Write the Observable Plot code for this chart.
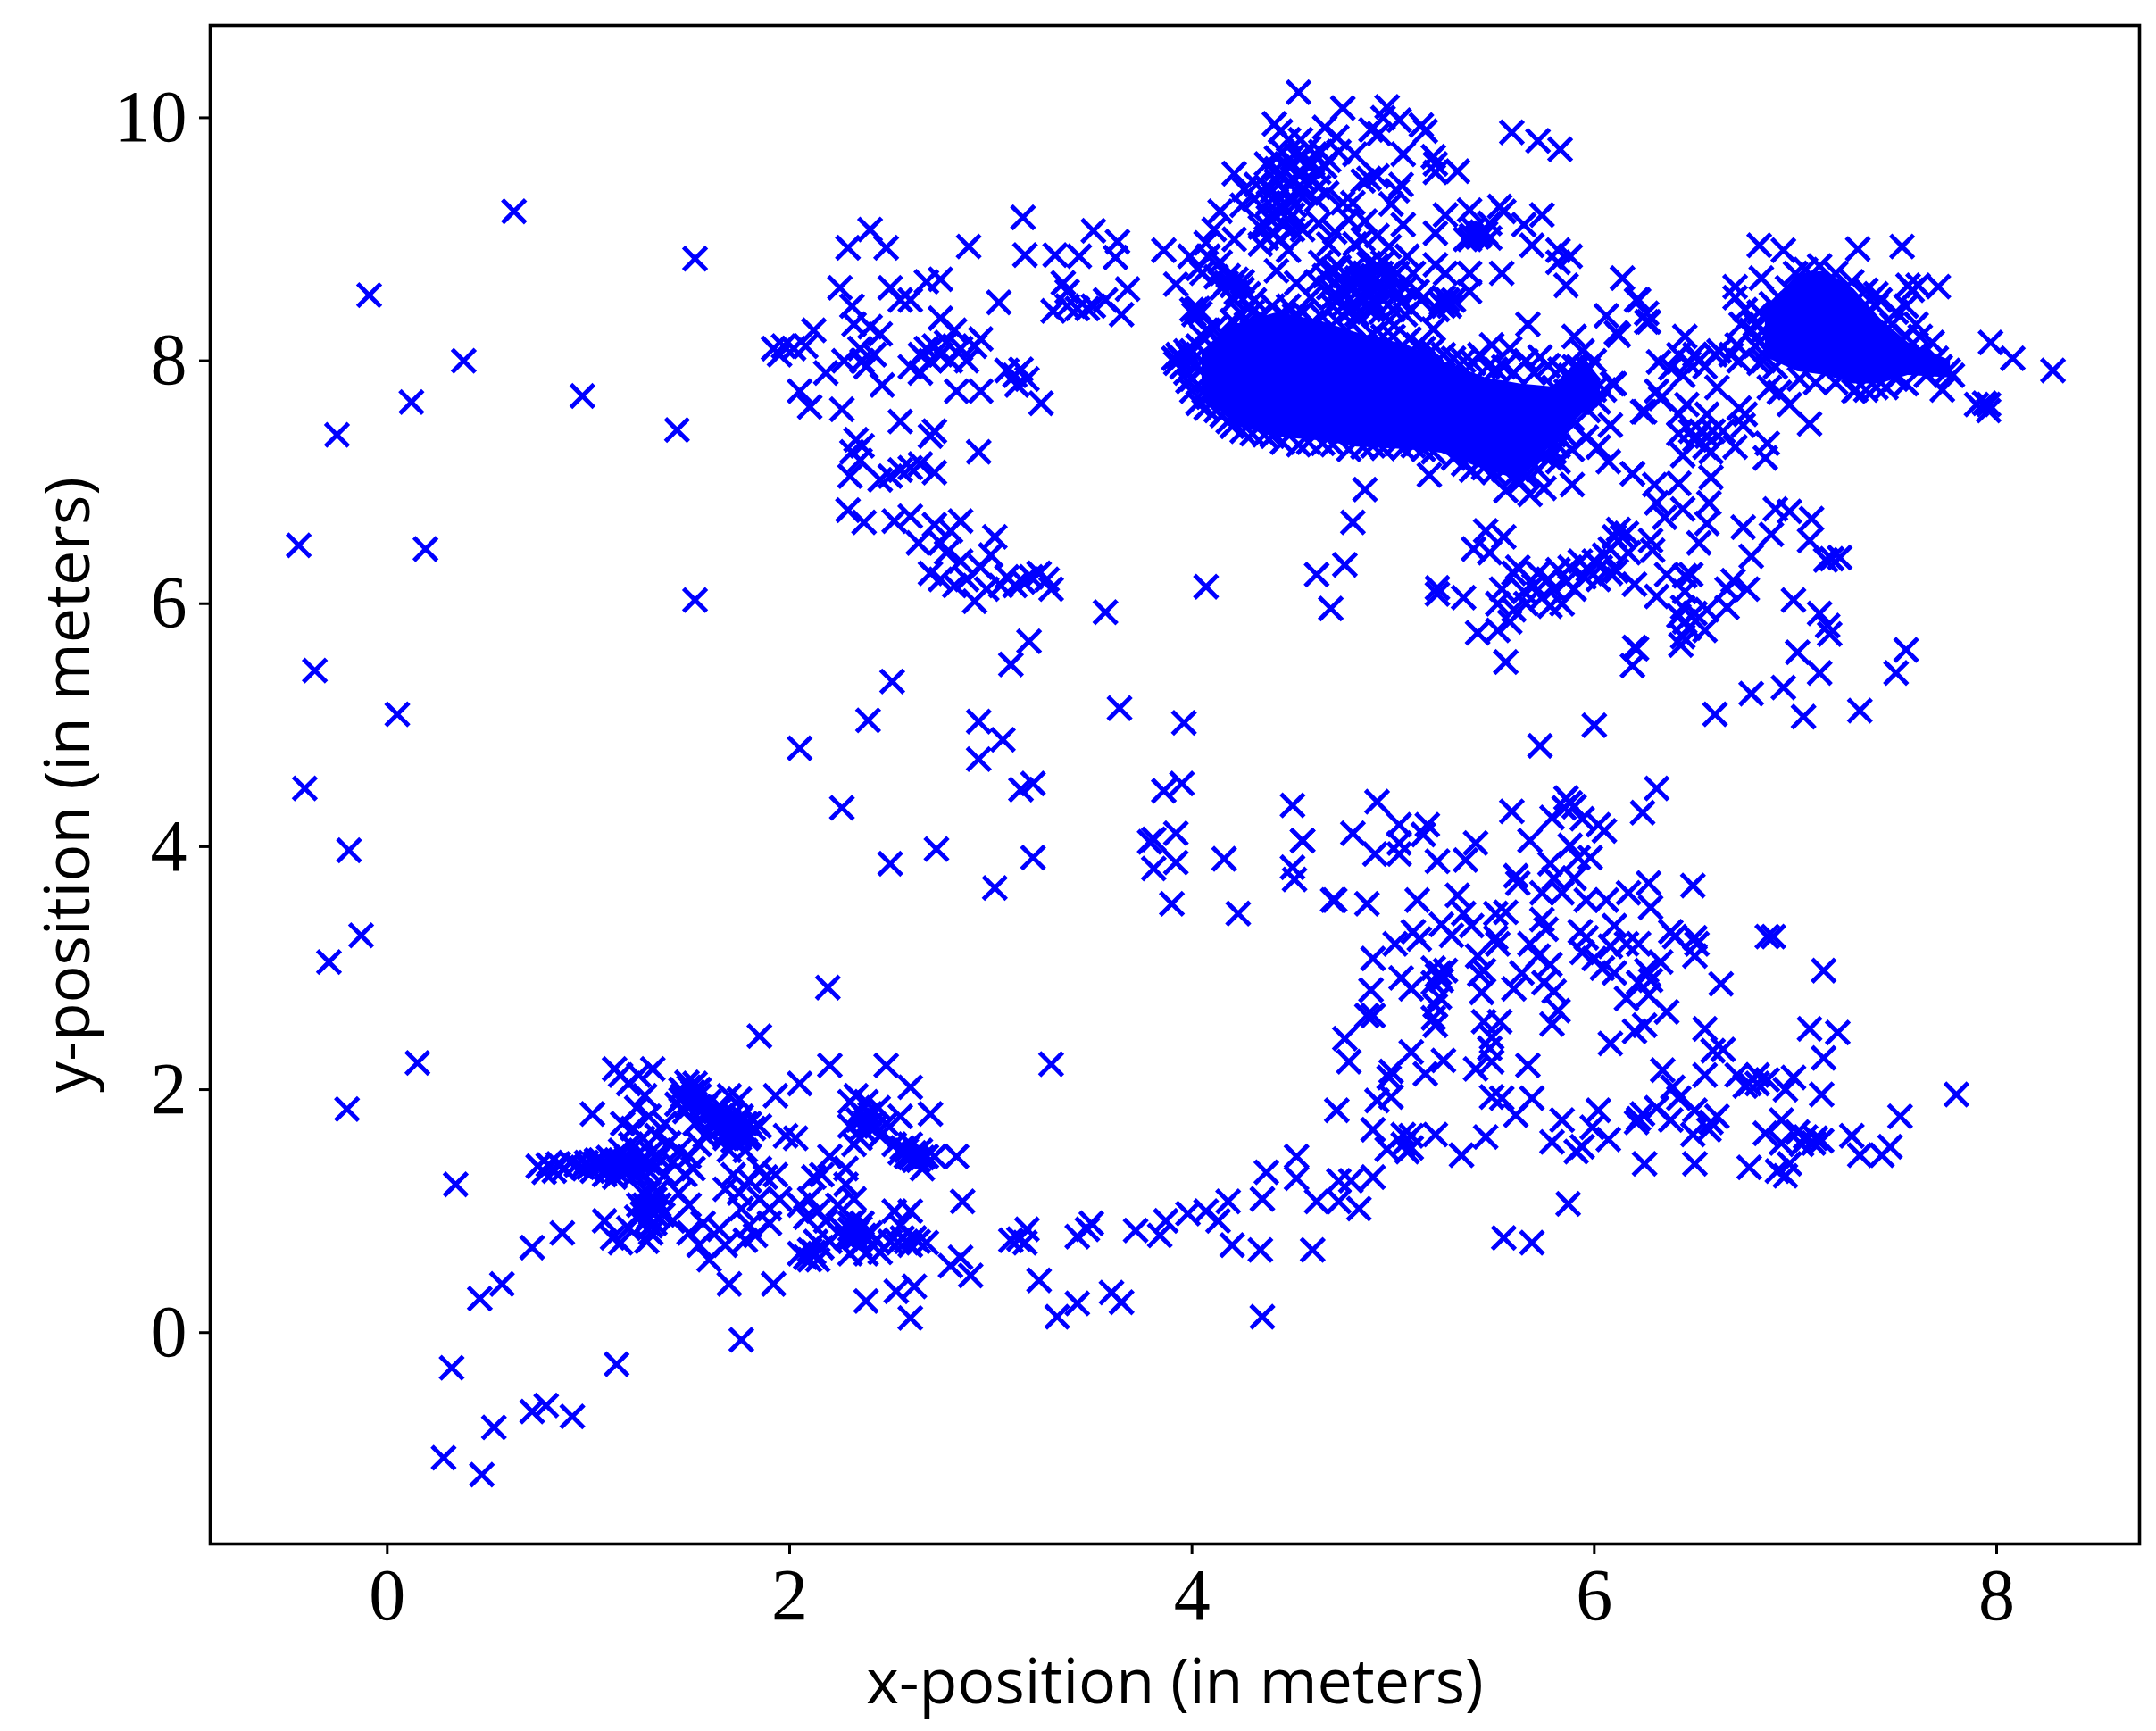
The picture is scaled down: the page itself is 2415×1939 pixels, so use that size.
<!DOCTYPE html>
<html><head><meta charset="utf-8">
<style>html,body{margin:0;padding:0;background:#fff}svg{display:block}</style>
<script src="https://cdn.jsdelivr.net/npm/d3@7"></script>
<script src="https://cdn.jsdelivr.net/npm/@observablehq/plot@0.6"></script>
</head><body><div id="chart"></div>
<script>
const xTicks=[0,2,4,6,8];
const yTicks=[0,2,4,6,8,10];
const xLabel="x-position (in meters)";
const yLabel="y-position (in meters)";
// Solid, fully overplotted masses: x, lower y, upper y
const mainMass=[[4.05,7.74,8.08],[4.22,7.46,8.30],[4.43,7.37,8.40],[4.65,7.34,8.32],[4.82,7.29,8.23],[5.07,7.27,8.13],[5.24,7.24,8.0],[5.46,7.10,7.86],[5.63,7.02,7.81],[5.82,7.36,7.78],[5.94,7.56,8.05],[6.03,7.65,7.85]];
const rightMass=[[6.85,8.03,8.42],[7.01,7.91,8.71],[7.15,7.88,8.74],[7.29,7.81,8.59],[7.42,7.81,8.35],[7.56,7.88,8.15],[7.77,7.86,8.0]];
const farLeft=[[.63,9.23],[-.09,8.54],[.38,8],[.12,7.66],[-.25,7.39],[.97,7.71],[1.44,7.43],[1.53,8.84],[-.44,6.48],[.19,6.45],[1.53,6.03],[-.36,5.45],[.05,5.09],[-.41,4.48],[-.19,3.97],[-.13,3.27],[-.29,3.05],[-.2,1.84],[.15,2.22],[.34,1.22]];
const tail=[[.32,-.29],[.28,-1.03],[.47,-1.17],[.53,-.78],[.72,-.65],[.79,-.6],[.92,-.69],[1.14,-.26],[.46,.28],[.57,.4],[.72,.7],[.87,.82],[1.76,-.06]];
const lowerLeft=[[.75,1.37],[.78,1.32],[.8,1.38],[.83,1.33],[.85,1.39],[.88,1.35],[.91,1.4],[.97,1.36],[.99,1.4],[1.02,1.33],[1.04,1.42],[1.06,1.37],[1.08,1.3],[1.1,1.44],[1.11,1.36],[1.13,1.28],[1.15,1.4],[1.16,1.5],[1.18,1.32],[1.2,1.42],[1.21,1.55],[1.23,1.3],[1.25,1.4],[1.27,1.6],[1.29,1.35],[1.31,1.48],[1.32,1.2],[1.33,1.1],[1.31,1.0],[1.29,.92],[1.31,.82],[1.29,.75],[1.25,1.05],[1.24,.95],[1.27,1.15],[1.35,1.05],[1.37,.97],[1.33,.9],[1.08,.92],[1.12,.78],[1.16,.74],[1.2,.86],[1.02,1.8],[1.13,2.17],[1.16,2.12],[1.2,2.05],[1.25,2.12],[1.32,2.17],[1.28,1.95],[1.24,1.85],[1.17,1.72],[1.22,1.68],[1.3,1.78],[1.38,1.72],[1.34,1.62],[1.4,1.56],[1.45,1.5],[1.5,1.45],[1.42,1.4],[1.48,1.3],[1.38,1.3],[1.55,1.55],[1.52,1.35],[1.58,1.62],[1.44,1.88],[1.46,2.0],[1.49,2.06],[1.52,1.98],[1.5,1.9],[1.55,2.0],[1.48,1.82],[1.55,1.86],[1.6,1.9],[1.58,1.78],[1.62,1.75],[1.66,1.85],[1.53,1.72],[1.6,1.65],[1.68,1.7],[1.72,1.65],[1.75,1.6],[1.78,1.72],[1.72,1.8],[1.7,1.95],[1.75,1.92],[1.8,1.62],[1.82,1.68],[1.85,1.7],[1.78,1.5],[1.7,1.5],[1.74,1.75],[1.68,1.6],[1.45,1.15],[1.5,1.05],[1.42,.92],[1.5,.82],[1.55,.72],[1.6,.6],[1.57,.9],[1.65,.85],[1.68,.72],[1.68,1.18],[1.72,1.3],[1.75,1.15],[1.8,1.25],[1.85,1.35],[1.88,1.28],[1.76,1.02],[1.8,.88],[1.85,1.1],[1.78,.76],[1.83,.8],[1.9,.9],[1.7,.4],[1.92,.4],[1.85,2.44],[1.93,1.95],[1.95,1.1],[1.98,1.62],[2.03,1.6],[1.93,1.3],[1.9,1.02]];
const lowerLeftDense=[[.94,1.38],[1.0,1.36],[1.03,1.39],[1.06,1.42],[1.09,1.35],[1.12,1.4],[1.14,1.33],[1.17,1.38],[1.19,1.44],[1.22,1.36],[1.24,1.46],[1.26,1.33],[1.28,1.42],[1.3,1.4],[1.33,1.36],[1.35,1.44],[1.3,1.15],[1.32,1.05],[1.34,1.16],[1.28,1.05],[1.3,.95],[1.33,.98],[1.27,.98],[1.31,.88],[1.47,1.95],[1.5,2.02],[1.53,2.05],[1.46,1.92],[1.52,1.92],[1.55,1.95],[1.49,1.86],[1.58,1.86],[1.63,1.82],[1.66,1.78],[1.7,1.74],[1.72,1.7],[1.75,1.72],[1.74,1.64],[1.77,1.66],[1.79,1.6],[1.72,1.58],[1.68,1.64],[1.76,1.78],[1.8,1.72],[1.65,1.68],[1.62,1.7]];
const lowerMid=[[2.05,2.05],[2.19,2.84],[2.2,2.2],[2.2,1.45],[2.12,1.28],[2.16,1.3],[2.28,1.35],[2.3,1.9],[2.33,1.95],[2.38,1.9],[2.37,1.78],[2.41,1.72],[2.44,1.85],[2.48,1.72],[2.3,1.7],[2.35,1.6],[2.32,1.55],[2.45,1.62],[2.48,2.2],[2.55,1.78],[2.6,1.55],[2.52,1.55],[2.55,1.48],[2.58,1.45],[2.62,1.42],[2.65,1.5],[2.68,1.45],[2.6,2.02],[2.7,1.8],[2.66,1.35],[2.72,1.45],[2.05,1.05],[2.08,.95],[2.1,1.1],[2.14,1.0],[2.18,.92],[2.24,1.05],[2.28,1.22],[2.32,1.1],[2.13,.75],[2.05,.65],[2.1,.6],[2.14,.6],[2.2,.75],[2.26,.85],[2.3,.9],[2.33,.82],[2.36,.9],[2.28,.78],[2.35,.72],[2.4,.82],[2.43,.76],[2.3,.65],[2.38,.65],[2.45,.66],[2.5,.75],[2.56,.78],[2.6,.72],[2.64,.75],[2.68,.74],[2.52,1.0],[2.6,1.0],[2.55,.88],[2.38,.26],[2.53,.34],[2.62,.38],[2.6,.12],[2.8,.55],[2.85,.62],[2.9,.47],[2.86,1.08],[2.83,1.45]];
const lowerMidDense=[[2.35,1.82],[2.38,1.72],[2.4,1.8],[2.36,1.68],[2.43,1.7],[2.34,1.75],[2.56,1.52],[2.58,1.5],[2.62,1.48],[2.64,1.42],[2.6,1.44],[2.66,1.44],[2.3,.85],[2.33,.78],[2.35,.86],[2.32,.92],[2.37,.8],[2.3,.78],[2.1,.68],[2.08,.62],[2.12,.66],[2.16,.7],[2.58,.75],[2.54,.74],[2.62,.78]];
const bridge=[[3.1,.76],[3.14,.77],[3.18,.85],[3.17,.74],[3.3,2.21],[3.24,.43],[3.33,.13],[3.43,.24],[3.43,.79],[3.5,.9],[3.48,.85],[3.6,.33],[3.65,.25],[3.72,.84],[3.84,.8],[3.87,.92],[3.98,.98],[4.07,1.0],[4.13,.92],[4.18,1.08],[4.2,.72],[4.34,.68],[4.35,.13],[4.35,1.1],[4.37,1.32],[4.52,1.27],[4.52,1.45],[4.6,.68],[4.73,1.08]];
const lowerRight=[[4.92,4.37],[4.8,4.11],[5.03,4.18],[5.17,4.18],[5.15,4.1],[5.03,4.03],[4.91,3.94],[5.03,3.94],[5.22,3.88],[5.36,3.89],[5.41,4.03],[4.55,4.05],[5.59,4.29],[5.68,4.05],[5.79,4.24],[5.86,4.4],[5.9,4.33],[5.85,4.32],[5.88,4.36],[5.94,4.23],[6.02,4.18],[6.05,4.13],[6.24,4.28],[6.31,4.48],[5.88,4.01],[5.78,3.86],[5.92,3.91],[5.98,3.91],[5.9,3.74],[5.61,3.76],[5.62,3.7],[5.74,3.62],[5.8,3.74],[5.84,3.62],[6.06,3.56],[5.96,3.56],[6.17,3.62],[6.27,3.7],[6.49,3.68],[6.28,3.5],[4.71,3.56],[4.87,3.53],[5.12,3.56],[5.32,3.6],[5.35,3.45],[5.51,3.45],[5.56,3.46],[5.24,3.36],[5.1,3.3],[5.01,3.2],[5.13,3.24],[5.29,3.27],[5.39,3.35],[5.51,3.25],[5.52,3.2],[5.42,3.1],[5.74,3.4],[5.76,3.32],[5.68,3.2],[5.72,3.1],[5.78,3.03],[5.64,2.96],[5.6,2.83],[5.75,2.88],[5.8,2.81],[5.82,2.65],[5.79,2.54],[5.93,3.3],[5.96,3.25],[6.08,3.18],[6,3.08],[6.04,3],[6.1,2.96],[5.94,3.13],[6.1,3.35],[6.22,3.2],[6.16,3.2],[6.33,3.05],[6.26,2.98],[6.28,2.9],[6.22,2.88],[6.16,2.75],[6.27,2.78],[6.36,2.64],[6.38,3.3],[6.4,3.26],[6.5,3.25],[6.51,3.2],[6.5,3.1],[6.63,2.87],[7.14,2.98],[6.86,3.26],[6.89,3.26],[4.9,3.08],[5.04,2.92],[5.09,2.83],[4.89,2.82],[4.9,2.61],[4.87,2.61],[4.76,2.42],[4.78,2.23],[5.23,2.96],[5.2,2.88],[5.22,2.94],[5.26,2.98],[5.2,3.0],[5.24,2.9],[5.21,2.69],[5.2,2.59],[5.21,2.53],[5.23,2.76],[5.44,2.8],[5.45,2.56],[5.53,2.56],[5.49,2.43],[5.48,2.34],[5.49,2.23],[5.41,2.17],[5.45,2.98],[5.43,2.95],[5.67,2.2],[6.08,2.38],[6.2,2.48],[6.25,2.53],[6.55,2.5],[7.07,2.5],[7.21,2.47],[7.14,2.26],[6.59,2.32],[6.64,2.33],[6.34,2.16],[6.55,2.12],[6.39,2.02],[6.71,2.12],[6.81,2.12],[6.77,2.05],[6.81,2.05],[6.75,2.03],[6.86,2.08],[6.99,2.1],[6.95,2],[7.13,1.96],[5.09,2.31],[4.99,2.15],[4.98,2.1],[5.25,2.24],[5.16,2.13],[4.99,1.94],[4.92,1.91],[4.72,1.83],[5.49,1.94],[5.54,1.93],[5.69,1.93],[5.61,1.79],[4.9,1.67],[5.05,1.63],[5.09,1.62],[5.21,1.63],[5.46,1.61],[4.97,1.51],[5.07,1.49],[5.05,1.55],[5.09,1.52],[5.34,1.46],[5.84,1.75],[6.02,1.83],[5.99,1.69],[5.79,1.57],[5.94,1.53],[5.91,1.49],[6.07,1.59],[6.22,1.76],[6.24,1.8],[6.21,1.73],[6.31,1.85],[6.38,1.75],[6.42,1.93],[6.5,1.83],[6.58,1.73],[6.61,1.78],[6.49,1.63],[6.57,1.67],[6.93,1.75],[6.85,1.64],[7.05,1.61],[7.01,1.65],[7.09,1.56],[7.13,1.58],[6.93,1.56],[7.03,1.55],[7.1,1.6],[7.28,1.62],[7.32,1.46],[7.43,1.46],[7.47,1.53],[7.52,1.78],[6.25,1.39],[6.5,1.39],[6.77,1.36],[6.91,1.33],[6.97,1.39],[6.95,1.29],[4.9,1.28],[4.73,1.25],[4.79,1.25],[4.62,1.08],[4.83,1.02],[5.87,1.06],[7.8,1.96],[5.55,.78],[5.69,.74]];
const midScatter=[[3.02,3.66],[2.5,3.86],[2.73,3.98],[2.26,4.32],[2.05,4.81],[2.39,5.04],[2.51,5.36],[2.94,5.03],[2.94,4.72],[3.06,4.88],[3.15,4.47],[3.21,4.52],[3.21,3.91],[3.1,5.5],[3.19,5.69],[3.64,5.14],[3.57,5.93],[3.96,5.02],[3.95,4.52],[3.86,4.46],[3.92,4.11],[3.79,4.04],[3.81,4.06],[3.81,3.82],[3.92,3.87],[3.9,3.53],[4.16,3.9],[4.23,3.45],[4.5,4.34],[4.55,4.05],[4.5,3.83],[4.51,3.73],[4.7,3.56],[4.07,6.14],[4.62,6.24],[4.76,6.32],[4.69,5.96],[4.8,6.67],[4.86,6.94],[5.22,6.13],[5.22,6.08],[5.73,4.83],[6,5],[6.19,5.49],[6.21,5.63],[6.6,5.09],[6.78,5.26],[6.94,5.31],[7.04,5.07],[7.12,5.43],[7.01,5.6],[7.32,5.12],[7.5,5.43],[7.55,5.62]];
const upperLeft=[[1.92,8.1],[1.95,8.05],[1.97,8.12],[2.02,8.1],[2.08,8.12],[2.05,7.75],[2.12,8.25],[2.1,7.62],[2.18,7.9],[2.25,8.6],[2.26,7.6],[2.27,8],[2.29,8.93],[2.31,8.45],[2.32,8.3],[2.35,8.1],[2.36,8],[2.38,7.95],[2.4,8.28],[2.42,8.05],[2.4,9.08],[2.45,8.22],[2.48,8.93],[2.5,8.6],[2.46,7.8],[2.55,8.5],[2.6,8.5],[2.65,8.05],[2.68,8.1],[2.7,8.0],[2.72,8.12],[2.75,8.05],[2.78,8.15],[2.8,8.0],[2.82,8.25],[2.85,8.1],[2.88,8.0],[2.92,8.12],[2.95,8.18],[2.75,8.35],[2.68,8.65],[2.75,8.67],[2.65,7.9],[2.83,7.75],[2.95,7.75],[2.6,7.95],[3.08,7.92],[3.12,7.88],[3.15,7.93],[3.18,7.85],[3.13,7.8],[3.25,7.65],[3.04,8.48],[2.89,8.94],[2.3,7.05],[2.33,7.35],[2.36,7.3],[2.31,7.25],[2.35,7.18],[2.45,7.02],[2.5,7.05],[2.55,7.1],[2.6,7.12],[2.65,7.15],[2.7,7.38],[2.72,7.42],[2.72,7.08],[2.94,7.25],[2.29,6.77],[2.37,6.67],[2.52,6.68],[2.6,6.72],[2.64,6.5],[2.72,6.65],[2.75,6.5],[2.8,6.6],[2.85,6.68],[2.7,6.25],[2.78,6.42],[2.85,6.35],[2.75,6.2],[2.82,6.15],[2.88,6.2],[2.92,6.02],[2.95,6.3],[2.98,6.12],[3.0,6.4],[3.02,6.55],[3.05,6.15],[3.08,6.22],[3.12,6.15],[3.16,6.18],[3.2,6.22],[3.24,6.25],[3.28,6.2],[3.3,6.12],[2.55,7.5],[3.16,9.18],[3.17,8.87],[3.32,8.87],[3.51,9.07],[3.63,8.98],[3.62,8.85],[3.44,8.86],[3.36,8.64],[3.31,8.41],[3.38,8.45],[3.43,8.43],[3.48,8.43],[3.51,8.45],[3.38,8.57],[3.57,8.5],[3.65,8.38],[3.68,8.59]];
const topCluster=[[4.53,10.21],[4.75,10.08],[4.97,10.09],[4.95,10],[5.03,9.98],[4.89,9.9],[4.93,9.87],[5.14,9.94],[5.16,9.89],[4.41,9.95],[4.44,9.89],[4.66,9.92],[4.72,9.84],[4.54,9.82],[4.48,9.82],[5.59,9.88],[5.72,9.81],[5.83,9.74],[5.05,9.7],[5.2,9.68],[5.21,9.62],[5.21,9.55],[5.32,9.56],[4.64,9.72],[4.73,9.72],[4.81,9.7],[4.37,9.62],[4.42,9.67],[4.51,9.7],[4.58,9.75],[4.61,9.7],[4.68,9.65],[4.42,9.58],[4.48,9.6],[4.53,9.55],[4.58,9.6],[4.63,9.55],[4.21,9.54],[4.88,9.5],[4.85,9.48],[4.92,9.52],[5.04,9.45],[5.02,9.4],[4.26,9.41],[4.32,9.45],[4.37,9.43],[4.42,9.48],[4.49,9.45],[4.49,9.35],[4.51,9.28],[4.53,9.38],[4.67,9.38],[4.63,9.43],[4.25,9.28],[4.14,9.23],[4.31,9.33],[4.38,9.3],[4.75,9.3],[4.8,9.3],[4.99,9.29],[5.26,9.2],[5.38,9.24],[5.53,9.27],[5.55,9.23],[5.74,9.2],[5.65,9.12],[5.48,9.13],[5.44,9.06],[5.39,9.03],[5.42,9.02],[5.48,9.01],[5.36,9],[5.69,8.95],[5.82,8.91],[5.88,8.86],[5.82,8.81],[5.86,8.62],[5.54,8.72],[5.21,9.05],[5.05,9.12],[4.86,9.15],[4.78,9.16],[4.71,9.06],[4.55,9.08],[4.37,9.01],[4.34,8.96],[4.48,9.16],[4.37,9.11],[4.21,9],[4.11,9.08],[4.07,8.97],[3.86,8.91],[3.99,8.86],[4.08,8.86],[4.14,8.81],[4.03,8.76],[3.92,8.63],[4.05,8.72],[4.12,8.69],[4.17,8.64],[4.22,8.67],[4.25,8.59],[4.31,8.5],[4.21,8.5],[4.02,8.42],[4.04,8.39],[4.07,8.25],[4.42,8.74],[4.52,8.64],[4.59,8.52],[4.48,8.91],[4.63,9.13],[4.68,8.96],[4.64,8.81],[4.73,8.77],[4.81,8.96],[4.85,9.0],[4.92,9.03],[4.98,8.94],[4.95,8.81],[4.73,8.67],[4.81,8.77],[4.85,8.67],[4.78,8.62],[4.88,8.57],[4.73,8.52],[4.81,8.45],[4.9,8.42],[4.95,8.5],[4.99,8.67],[4.9,8.7],[5.07,8.86],[5.21,8.79],[5.26,8.72],[5.1,8.72],[5.12,8.57],[5.09,8.42],[5.24,8.47],[5.3,8.5],[5.38,8.72],[5.38,8.57],[5.2,8.26],[5.67,8.3],[4.68,8.6],[4.76,8.55],[4.84,8.6],[4.7,8.45],[4.78,8.4],[4.86,8.5],[4.92,8.6],[5.02,8.55],[5.0,8.42],[4.76,8.72],[4.82,8.68],[4.88,8.8],[4.94,8.72],[5.02,8.72],[5.06,8.6],[5.14,8.5],[5.28,8.45],[5.25,8.52]];
const topDense=[[4.45,9.72],[4.5,9.62],[4.55,9.68],[4.6,9.62],[4.66,9.6],[4.44,9.52],[4.5,9.5],[4.56,9.48],[4.4,9.4],[4.46,9.4],[4.42,9.3],[4.46,9.25],[4.41,9.2],[4.45,9.12],[4.4,9.05],[4.44,9.0],[4.5,9.2],[4.5,9.08],[4.38,9.18],[4.34,9.1],[4.6,9.48],[4.55,9.4],[4.62,9.32],[4.15,8.6],[4.18,8.7],[4.2,8.62],[4.25,8.65],[4.28,8.55],[4.22,8.56],[4.01,8.38],[4.03,8.43],[4.0,8.42],[5.4,9.08],[5.43,9.03],[5.46,9.05],[5.38,9.0],[5.25,8.45],[5.22,8.42],[5.27,8.5],[4.7,8.75],[4.66,8.7],[4.62,8.65],[4.78,8.5],[4.83,8.52],[4.9,8.5],[4.96,8.58],[5.0,8.6],[4.74,8.6],[4.8,8.6],[4.86,8.72],[4.92,8.78],[4.98,8.72],[4.7,8.52],[4.75,8.45],[4.82,8.38],[4.88,8.42],[4.94,8.4],[5.04,8.48],[5.06,8.38],[4.98,8.33]];
const massEdge=[[3.91,8.02],[3.98,7.83],[4,7.75],[4.07,7.61],[4.12,7.59],[3.93,8.05],[3.97,8.08],[4,8],[4.2,7.46],[4.36,7.39],[4.53,7.31],[4.78,7.27],[4.85,7.29],[5.02,7.32],[5.15,7.27],[5.39,7.1],[5.55,7.1],[4.14,8.2],[4.05,8.2],[4.27,8.3],[4.34,8.37],[4.46,8.37],[4.51,8.37],[4.6,8.32],[4.87,8.18],[4.95,8.2],[5.12,8.13],[5.19,8.08],[5.3,8.02],[5.49,8.13],[5.58,8.1],[5.51,7.93],[5.43,8.05],[5.83,7.93],[5.77,7.96],[5.73,8.03],[5.8,7.78],[5.83,7.66],[5.9,7.95],[6,7.76],[6.05,7.76],[5.89,7.52],[5.8,7.39],[5.7,7.27],[5.75,7.22],[5.66,7.05],[5.63,7],[5.9,8.2],[5.94,8.08],[6,8],[5.97,7.93],[6.09,7.81],[5.89,7.83],[5.92,7.66],[6.02,7.66],[5.97,7.59],[5.86,7.75],[5.93,7.8],[5.96,7.72],[5.92,7.95],[5.88,7.88],[6.06,8.37],[6.11,8.23],[6.14,8.68],[6.22,8.5],[6.26,8.32],[6.24,7.58],[6.08,7.47],[5.96,7.37],[6.02,7.29],[6.07,7.17],[6.19,7.07],[5.89,7.27],[5.82,7.17],[5.75,6.95],[5.89,6.98],[5.56,6.93],[5.68,6.9],[5.18,7.06],[4.08,8.25],[4.12,8.28],[4.2,8.33],[4.25,8.38],[4.3,8.4],[4.4,8.45],[4.48,8.45],[4.55,8.4],[4.65,8.36],[4.72,8.33],[4.8,8.3],[4.9,8.22],[5,8.2],[5.08,8.18],[5.15,8.1],[5.25,8.05],[5.35,8],[5.4,7.98],[5.47,7.95],[5.55,7.95],[5.6,7.9],[5.66,8],[5.7,7.9],[4.08,7.7],[4.15,7.55],[4.18,7.5],[4.25,7.42],[4.3,7.4],[4.4,7.38],[4.45,7.33],[4.58,7.33],[4.65,7.32],[4.7,7.31],[4.9,7.3],[4.95,7.28],[5.05,7.28],[5.1,7.3],[5.2,7.25],[5.3,7.2],[5.35,7.15],[5.45,7.12],[5.5,7.08],[5.6,7.05],[5.65,7.08],[5.72,7.1],[5.78,7.2],[5.82,7.3],[5.85,7.4],[5.8,7.25],[3.98,8.05],[4.02,7.95],[3.95,7.95],[3.97,7.9],[4,7.85],[4.03,7.65],[4.06,7.75],[4,8.08],[4.03,8.12],[3.94,8.02],[3.92,7.98]];
const rightCluster=[[6.82,8.95],[6.94,8.91],[7.31,8.92],[7.53,8.94],[6.83,8.68],[6.7,8.61],[6.7,8.52],[7.56,8.62],[7.61,8.62],[7.58,8.58],[7.71,8.61],[7.55,8.45],[6.21,8.5],[6.26,8.39],[6.27,8.32],[6.12,8.21],[6.45,8.2],[6.32,7.99],[6.42,8.05],[6.44,7.88],[6.62,8.08],[6.73,8.3],[6.71,8.13],[7.97,8.15],[8.08,8.02],[8.28,7.92],[7.9,7.64],[7.94,7.65],[7.96,7.59],[7.96,7.64],[7.73,7.76],[7.29,7.75],[7.55,7.81],[6.97,7.64],[7.07,7.48],[6.87,7.78],[6.92,7.74],[6.61,7.78],[6.31,7.75],[6.1,7.81],[6.33,7.69],[6.25,7.58],[6.46,7.64],[6.42,7.56],[6.56,7.56],[6.48,7.42],[6.59,7.42],[6.64,7.42],[6.55,7.29],[6.44,7.22],[6.58,7.25],[6.7,7.29],[6.75,7.56],[6.72,7.61],[6.74,7.47],[6.86,7.32],[6.85,7.2],[6.19,7.07],[6.3,6.98],[6.42,6.99],[6.58,7.04],[6.57,6.83],[6.31,6.83],[6.44,6.78],[6.35,6.71],[6.56,6.66],[6.9,6.78],[6.97,6.76],[7.08,6.7],[7.07,6.52],[6.74,6.63],[6.88,6.57],[6.28,6.52],[6.52,6.5],[6.78,6.39],[7.15,6.36],[7.22,6.38],[7.18,6.37],[6.12,6.61],[6.14,6.55],[6.17,6.42],[6.29,6.44],[6.36,6.24],[6.45,6.23],[6.48,6.24],[6.2,6.16],[6.11,6.27],[6.31,6.06],[6.44,5.97],[6.45,6.1],[6.55,5.78],[6.66,6.12],[6.69,6.19],[6.76,6.12],[6.66,5.97],[6.56,5.95],[6.99,6.03],[7.12,5.92],[7.16,5.82],[7.17,5.75],[6.44,5.73],[6.43,5.66],[6.2,5.64],[6.75,8.42],[6.78,8.25],[6.68,8.05],[6.8,8.12],[6.84,8.0],[6.9,7.95],[6.82,7.98],[6.72,8.0],[6.6,8.05],[6.52,8.0],[6.5,8.05],[6.47,7.98],[6.55,7.95],[6.38,7.94],[7.42,8.5],[7.5,8.4],[7.6,8.3],[7.68,8.15],[7.6,8.05],[7.72,7.95],[7.76,7.92],[7.78,7.88],[7.5,7.85],[7.4,7.78],[7.3,7.76],[7.65,7.88],[7.62,8.2],[7.4,8.55],[6.82,8.4],[6.85,8.35],[6.8,8.3],[6.84,8.25],[6.82,8.15],[6.86,8.1],[6.88,8.47],[6.92,8.52],[6.96,8.6],[7.0,8.72],[7.05,8.75],[7.12,8.78],[7.2,8.72],[7.28,8.65],[7.35,8.58],[7.4,8.45],[7.48,8.3],[7.55,8.2],[7.7,8.02],[7.02,7.85],[7.1,7.82],[7.2,7.82],[7.35,7.76],[7.45,7.78],[6.42,7.4],[6.5,7.35],[6.53,7.42],[6.56,7.38],[6.45,5.85],[6.47,5.8],[6.42,5.9],[6.5,5.92]];
const sixBand=[[5.46,6.6],[5.4,6.45],[5.55,6.55],[5.48,6.42],[5.35,6.05],[5.42,5.76],[5.52,5.78],[5.56,5.52],[5.52,6.0],[5.54,6.12],[5.6,6.25],[5.62,6.3],[5.65,6.1],[5.58,5.85],[5.6,5.95],[5.66,6.0],[5.7,6.15],[5.72,6.25],[5.74,6.05],[5.77,6.2],[5.8,6.12],[5.82,6.28],[5.78,5.98],[5.84,6.0],[5.86,6.18],[5.88,6.3],[5.9,6.12],[5.93,6.35],[5.95,6.22],[5.97,6.28],[6,6.35],[6.03,6.3],[6.05,6.4],[6.08,6.25],[6.02,6.2],[6.1,6.55],[6.08,6.45],[6.16,6.58]];
const allPoints=[...farLeft,...tail,...lowerLeft,...lowerLeftDense,...lowerMid,...lowerMidDense,...bridge,...lowerRight,...midScatter,...upperLeft,...topCluster,...topDense,...massEdge,...rightCluster,...sixBand];
const massArea=(rows)=>Plot.areaY(rows,{x:d=>d[0],y1:d=>d[1],y2:d=>d[2],fill:"#0000ff",curve:"linear"});
const tickFont='"Liberation Serif",serif';
const labelFont='"Open Sans",sans-serif';
const chart=Plot.plot({
  width:2415,height:1939,marginLeft:235,marginRight:19,marginTop:28,marginBottom:210,
  style:{background:"#fff"},
  x:{domain:[-.88,8.71]},y:{domain:[-1.74,10.76]},
  marks:[
    massArea(mainMass),massArea(rightMass),
    Plot.dot(allPoints,{x:d=>d[0],y:d=>d[1],symbol:"times",r:11.8,stroke:"#0000ff",strokeWidth:5}),
    Plot.frame({stroke:"#000",strokeWidth:3.6,strokeOpacity:1}),
    Plot.axisX({ticks:xTicks,tickFormat:String,label:null,tickSize:12,tickPadding:14,strokeWidth:3,strokeOpacity:1,fontSize:82,fontFamily:tickFont,color:"#000"}),
    Plot.axisY({ticks:yTicks,tickFormat:String,label:null,tickSize:12,tickPadding:14,strokeWidth:3,strokeOpacity:1,fontSize:82,fontFamily:tickFont,color:"#000"}),
    Plot.text([xLabel],{frameAnchor:"bottom",dy:178,fontSize:70,fontFamily:labelFont,fill:"#000"}),
    Plot.text([yLabel],{frameAnchor:"left",dx:-158,textAnchor:"middle",rotate:-90,fontSize:70,fontFamily:labelFont,fill:"#000"})
  ]
});
document.getElementById("chart").appendChild(chart);
</script></body></html>
